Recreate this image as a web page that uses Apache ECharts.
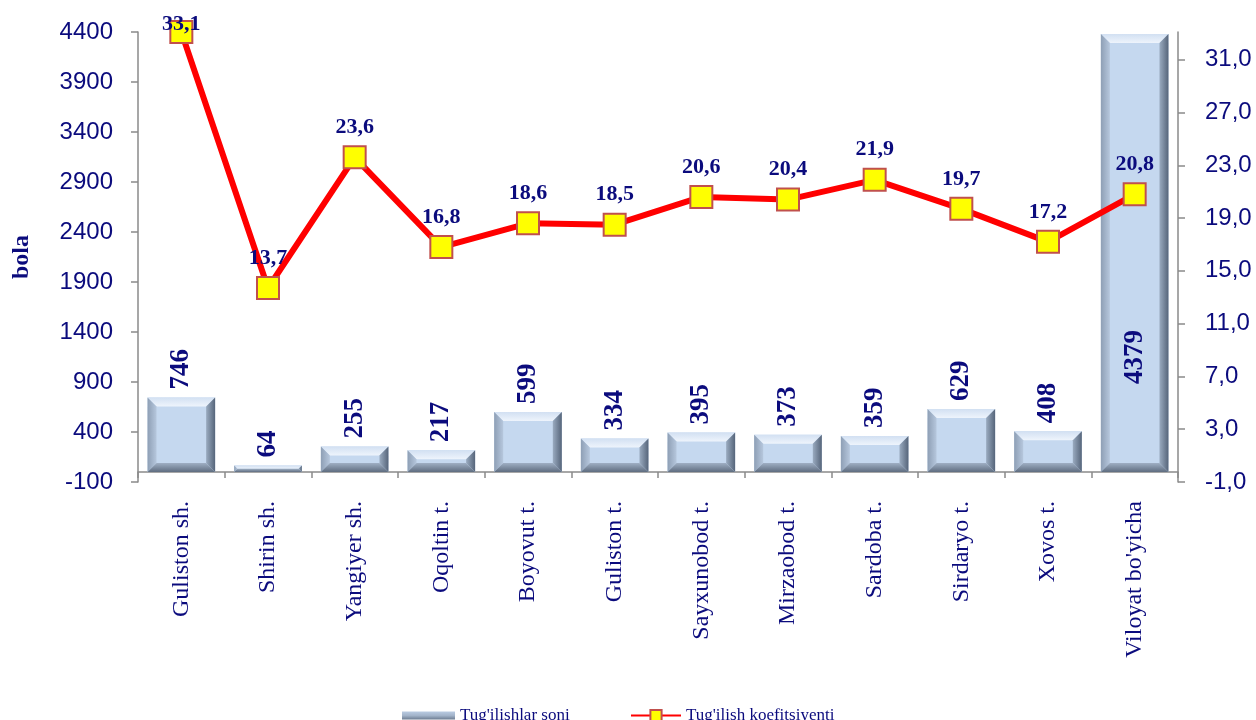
<!DOCTYPE html>
<html>
<head>
<meta charset="utf-8">
<script src="https://cdn.jsdelivr.net/npm/echarts@6/dist/echarts.min.js"></script>
<style>html,body{margin:0;padding:0;background:#fff}#c{width:1256px;height:720px}</style>
</head>
<body>
<div id="c"></div>
<script>
const categories = ["Guliston sh.", "Shirin sh.", "Yangiyer sh.", "Oqoltin t.", "Boyovut t.", "Guliston t.", "Sayxunobod t.", "Mirzaobod t.", "Sardoba t.", "Sirdaryo t.", "Xovos t.", "Viloyat bo'yicha"];
const births = [746, 64, 255, 217, 599, 334, 395, 373, 359, 629, 408, 4379];
const rate = [33.1, 13.7, 23.6, 16.8, 18.6, 18.5, 20.6, 20.4, 21.9, 19.7, 17.2, 20.8];
const barName = "Tug'ilishlar soni";
const lineName = "Tug'ilish koefitsiyenti";
const axisName = "bola";

const NAVY = '#0b0b7d';
const SERIF = "'Liberation Serif','Times New Roman',serif";
const SANS = "'Liberation Sans',Arial,sans-serif";
const GAP = 0.78;

const legendFill = new echarts.graphic.LinearGradient(0, 0, 0, 1, [
  {offset: 0, color: '#b9cbe2'},
  {offset: 0.5, color: '#a3b4ca'},
  {offset: 1, color: '#6d7d92'}
]);

function bevel(params, api) {
  const i = api.value(0), v = api.value(1);
  const top = api.coord([i, v]);
  const base = api.coord([i, 0]);
  const bw = api.size([1, 0])[0] * GAP;
  const x0 = top[0] - bw / 2, x1 = top[0] + bw / 2, y0 = top[1], y1 = base[1];
  const b = Math.min(9, (y1 - y0) / 2);
  return {
    type: 'group', silent: true,
    children: [
      {type: 'rect', shape: {x: x0, y: y0, width: bw, height: y1 - y0}, style: {fill: '#c5d8ef'}},
      {type: 'polygon', shape: {points: [[x0, y0], [x1, y0], [x1 - b, y0 + b], [x0 + b, y0 + b]]},
        style: {fill: new echarts.graphic.LinearGradient(0, 0, 0, 1, [{offset: 0, color: '#d2e0f2'}, {offset: 1, color: '#eef4fc'}])}},
      {type: 'polygon', shape: {points: [[x0, y0], [x0 + b, y0 + b], [x0 + b, y1 - b], [x0, y1]]},
        style: {fill: new echarts.graphic.LinearGradient(0, 0, 1, 0, [{offset: 0, color: '#8e9fb5'}, {offset: 1, color: '#b6c7dd'}])}},
      {type: 'polygon', shape: {points: [[x1, y0], [x1, y1], [x1 - b, y1 - b], [x1 - b, y0 + b]]},
        style: {fill: new echarts.graphic.LinearGradient(0, 0, 1, 0, [{offset: 0, color: '#9aabc0'}, {offset: 1, color: '#56657a'}])}},
      {type: 'polygon', shape: {points: [[x0, y1], [x1, y1], [x1 - b, y1 - b], [x0 + b, y1 - b]]},
        style: {fill: new echarts.graphic.LinearGradient(0, 0, 0, 1, [{offset: 0, color: '#9fafc4'}, {offset: 1, color: '#5f6d80'}])}}
    ]
  };
}

const chart = echarts.init(document.getElementById('c'), null, {renderer: 'canvas'});
const last = births.length - 1;
const barData = births.map((v, i) => i === last
  ? {value: v, label: {position: 'insideBottom', distance: 88}}
  : v);
const lineData = rate.map((v, i) => i === 0
  ? {value: v, label: {offset: [0, 22]}}
  : v);

chart.setOption({
  animation: false,
  backgroundColor: '#ffffff',
  grid: {left: 138, right: 78, top: 32, bottom: 238, containLabel: false},
  legend: [
    {data: [{name: barName, icon: 'rect', itemStyle: {color: legendFill}}], left: 397, top: 702, itemWidth: 53, itemHeight: 8,
      textStyle: {fontFamily: SERIF, fontSize: 17, color: NAVY}},
    {data: [lineName], left: 625, top: 702, itemWidth: 50, itemHeight: 14,
      textStyle: {fontFamily: SERIF, fontSize: 17, color: NAVY}}
  ],
  xAxis: {
    type: 'category', data: categories,
    axisLine: {onZero: true, lineStyle: {color: '#8a8a8a', width: 1.5}},
    axisTick: {show: true, length: 6, lineStyle: {color: '#8a8a8a', width: 1.5}},
    axisLabel: {rotate: 90, margin: 19, fontFamily: SERIF, fontSize: 24, color: NAVY, interval: 0}
  },
  yAxis: [
    {type: 'value', min: -100, max: 4400, interval: 500, position: 'left',
      name: axisName, nameLocation: 'middle', nameGap: 104,
      nameTextStyle: {fontFamily: SERIF, fontWeight: 'bold', fontSize: 24, color: NAVY},
      splitLine: {show: false},
      axisLine: {show: true, lineStyle: {color: '#8a8a8a', width: 1.5}},
      axisTick: {show: true, length: 7, lineStyle: {color: '#8a8a8a', width: 1.5}},
      axisLabel: {fontFamily: SANS, fontSize: 24, color: NAVY, margin: 25, formatter: v => String(v)}},
    {type: 'value', min: -1, max: 33.1, interval: 4, position: 'right',
      splitLine: {show: false},
      axisLine: {show: true, lineStyle: {color: '#8a8a8a', width: 1.5}},
      axisTick: {show: true, length: 7, lineStyle: {color: '#8a8a8a', width: 1.5}},
      axisLabel: {fontFamily: SANS, fontSize: 24, color: NAVY, margin: 27, showMaxLabel: false,
        formatter: v => Math.abs(v - 33.1) < 1e-6 ? '' : v.toFixed(1).replace('.', ',')}}
  ],
  series: [
    {name: barName + ' bevel', type: 'custom', renderItem: bevel, z: 3, silent: true,
      data: births.map((v, i) => [i, v]), encode: {x: 0, y: 1}},
    {name: barName, type: 'bar', data: barData, barCategoryGap: '22%', z: 5,
      itemStyle: {color: 'rgba(0,0,0,0)'},
      label: {show: true, position: 'top', distance: 8, rotate: 90, align: 'left', verticalAlign: 'middle',
        fontFamily: SERIF, fontWeight: 'bold', fontSize: 27, color: NAVY}},
    {name: lineName, type: 'line', yAxisIndex: 1, data: lineData, z: 10,
      symbol: 'rect', symbolSize: 22,
      lineStyle: {color: '#ff0000', width: 6},
      itemStyle: {color: '#ffff00', borderColor: '#c0504d', borderWidth: 2},
      label: {show: true, position: 'top', distance: 7, fontFamily: SERIF, fontWeight: 'bold', fontSize: 22, color: NAVY,
        formatter: p => Number(p.value).toFixed(1).replace('.', ',')}}
  ]
});
</script>
</body>
</html>
